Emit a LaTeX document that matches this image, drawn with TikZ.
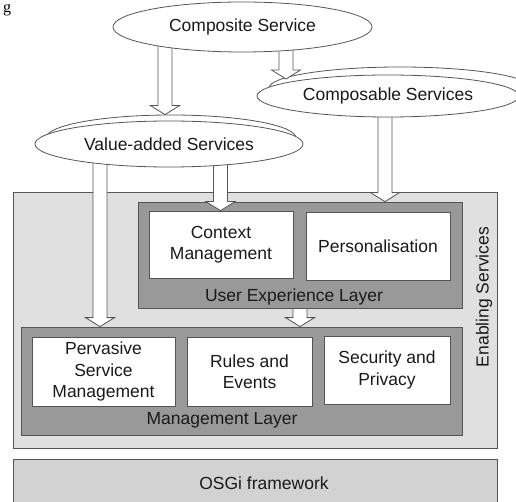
\documentclass[tikz,border=0pt]{standalone}
\usepackage{fontspec}
\setmainfont{Liberation Sans}
\newfontfamily\serifg{Liberation Serif}
\usetikzlibrary{calc,shapes.geometric}
\pgfdeclarelayer{L0}\pgfdeclarelayer{L1}\pgfdeclarelayer{L3}\pgfdeclarelayer{L4}
\pgfsetlayers{L0,L1,main,L3,L4}
\definecolor{encol}{HTML}{E0E0E0}
\definecolor{laycol}{HTML}{999999}
\definecolor{osgicol}{HTML}{D2D2D2}
\definecolor{edgecol}{HTML}{555555}
\definecolor{txtcol}{HTML}{1A1A1A}
\begin{document}
\begin{tikzpicture}[x=1pt,y=-1pt,
  font=\fontsize{17.5}{21.5}\selectfont, text=txtcol,
  box/.style={draw=edgecol, line width=0.8pt, inner sep=0pt, align=center},
  outerbox/.style={box, fill=encol},
  layerbox/.style={box, fill=laycol},
  itembox/.style={box, fill=white},
  ell/.style={ellipse, draw=edgecol, fill=white, line width=0.8pt, inner sep=0pt},
  barrow/.style={draw=edgecol, fill=white, line width=0.8pt,
    to path={let \p1=(\tikztostart), \p2=(\tikztotarget) in
      (\x1-7pt,\y1) -- (\x1-7pt,\y2+9pt) -- (\x1-14.5pt,\y2+9pt) -- (\x1,\y2)
      -- (\x1+14.5pt,\y2+9pt) -- (\x1+7pt,\y2+9pt) -- (\x1+7pt,\y1) -- cycle}}]
\useasboundingbox (0,0) rectangle (516,502);

% caption remnant
\node[anchor=base west, inner sep=0pt, font=\serifg\fontsize{16}{16}\selectfont, text=black] (capg) at (3,13) {g};

\begin{pgfonlayer}{L0}
  \node[outerbox, minimum width=484pt, minimum height=256pt] (en) at (255,320) {};
  \node[box, fill=osgicol, minimum width=484pt, minimum height=48pt] (osgi) at (255,483) {};
  \node (osgit) at (264,483) {OSGi framework};
  \node[rotate=90] (ent) at (484,297) {Enabling Services};

  \node[layerbox, minimum width=324pt, minimum height=106pt] (ux) at (300,255) {};
  \node[itembox, minimum width=144pt, minimum height=67pt] (cm) at (221,244.5) {Context\\Management};
  \node[itembox, minimum width=144pt, minimum height=68pt] (pe) at (378,246) {Personalisation};
  \node (uxt) at (294,297) {User Experience Layer};

  \node[layerbox, minimum width=441pt, minimum height=108pt] (ml) at (241.5,381) {};
  \node[itembox, minimum width=143pt, minimum height=69pt] (ps) at (103.5,371.5) {Pervasive\\Service\\Management};
  \node[itembox, minimum width=125pt, minimum height=69pt] (re) at (249.5,371.5) {Rules and\\Events};
  \node[itembox, minimum width=126pt, minimum height=68pt] (sp) at (387,370) {Security and\\Privacy};
  \node (mlt) at (222,420) {Management Layer};
\end{pgfonlayer}

% ellipses (main layer)
\node[ell, minimum width=250pt, minimum height=46pt] (vasb) at (171,138) {};
\node[ell, minimum width=268pt, minimum height=46pt] (vas) at (169,144) {Value-added Services};
\node[ell, minimum width=262pt, minimum height=42pt] (csb) at (400,88) {};
\node[ell, minimum width=262pt, minimum height=42pt] (cs) at (388,96) {Composable Services};

\begin{pgfonlayer}{L4}
  \node[ell, minimum width=259pt, minimum height=50pt] (comp) at (242.5,27) {Composite Service};
\end{pgfonlayer}

\coordinate (a2t) at (286,79);

% arrows under the ellipses
\begin{pgfonlayer}{L1}
  \draw[barrow] (385,0 |- cs.center) to (385,0 |- ux.north);
  \draw[barrow] (220.5,0 |- vas.center) to (220.5,0 |- cm.north);
  \draw[barrow] (100,0 |- vas.center) to (100,0 |- ml.north);
  \draw[barrow] (300,0 |- ux.south) to (300,0 |- ml.north);
\end{pgfonlayer}

% arrows above the lower ellipses
\begin{pgfonlayer}{L3}
  \draw[barrow] (165,0 |- comp.center) to (165,0 |- vasb.north);
  \draw[barrow] (286,0 |- comp.center) to (a2t);
\end{pgfonlayer}
\end{tikzpicture}
\end{document}
